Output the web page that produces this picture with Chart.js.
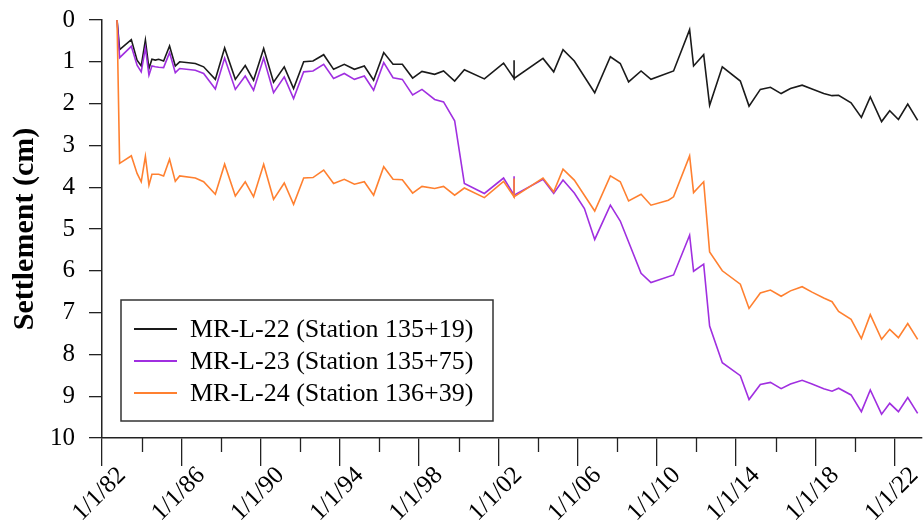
<!DOCTYPE html>
<html>
<head>
<meta charset="utf-8">
<title>Settlement</title>
<script src="https://cdn.jsdelivr.net/npm/chart.js@4.4.0/dist/chart.umd.min.js"></script>
<style>
  html, body { margin: 0; padding: 0; background: #fff; }
</style>
</head>
<body>
<canvas id="myChart" width="924" height="531"></canvas>
<script>
// survey dates as decimal years (the 2002.80 reading shows up three times, it makes the little spike)
var dates = [
  1982.76, 1982.89, 1983.48, 1983.77, 1983.98, 1984.19, 1984.37, 1984.52, 1984.69, 1984.86,
  1985.11, 1985.41, 1985.70, 1985.92, 1986.71, 1987.13, 1987.72, 1988.19, 1988.73, 1989.23,
  1989.65, 1990.16, 1990.66, 1991.20, 1991.67, 1992.18, 1992.65, 1993.19, 1993.69, 1994.23,
  1994.74, 1995.24, 1995.71, 1996.22, 1996.69, 1997.16, 1997.68, 1998.15, 1998.79, 1999.24,
  1999.80, 2000.29, 2001.30, 2002.27, 2002.80, 2002.80, 2002.80, 2004.26, 2004.80, 2005.27,
  2005.84, 2006.35, 2006.87, 2007.66, 2008.16, 2008.58, 2009.21, 2009.71, 2010.59, 2010.85,
  2011.66, 2011.86, 2012.37, 2012.67, 2013.31, 2014.22, 2014.66, 2015.23, 2015.74, 2016.28,
  2016.75, 2017.34, 2017.84, 2018.43, 2018.85, 2019.18, 2019.81, 2020.33, 2020.78, 2021.35,
  2021.76, 2022.20, 2022.67, 2023.17
]

// settlement in cm
var mrL22 = [
  0, 0.71, 0.47, 0.96, 1.10, 0.48, 1.16, 0.94, 0.96, 0.94,
  0.98, 0.62, 1.10, 1.00, 1.04, 1.12, 1.42, 0.67, 1.42, 1.09,
  1.44, 0.68, 1.49, 1.12, 1.64, 1.00, 0.98, 0.83, 1.18, 1.06,
  1.18, 1.10, 1.44, 0.78, 1.06, 1.06, 1.39, 1.23, 1.30, 1.22,
  1.46, 1.19, 1.41, 1.03, 1.40, 0.96, 1.40, 0.92, 1.24, 0.71,
  0.98, null, 1.74, 0.88, 1.04, 1.48, 1.22, 1.42, null, 1.22,
  0.23, 1.10, 0.83, 2.04, 1.12, 1.46, 2.06, 1.66, 1.61, 1.76,
  1.64, 1.56, 1.65, 1.76, 1.81, 1.80, 1.98, 2.33, 1.84, 2.43,
  2.17, 2.38, 2.01, 2.40
]
var mrL23 = [
  0, 0.90, 0.63, 1.08, 1.24, 0.67, 1.32, 1.10, 1.12, 1.13,
  1.14, 0.78, 1.26, 1.16, 1.20, 1.28, 1.65, 0.91, 1.66, 1.34,
  1.68, 0.91, 1.74, 1.36, 1.88, 1.24, 1.22, 1.06, 1.40, 1.28,
  1.42, 1.34, 1.68, 1.02, 1.38, 1.42, 1.79, 1.66, 1.90, 1.96,
  2.41, 3.91, 4.15, 3.78, 4.19, 3.74, 4.19, 3.81, 4.15, 3.83,
  4.14, 4.51, 5.25, 4.43, 4.81, null, 6.06, 6.28, null, 6.10,
  5.15, 6.01, 5.84, 7.32, 8.20, 8.51, 9.08, 8.72, 8.67, 8.82,
  8.71, 8.62, 8.71, 8.82, 8.88, 8.81, 8.97, 9.37, 8.85, 9.43,
  9.17, 9.37, 9.03, 9.41
]
var mrL24 = [
  0, 3.43, 3.25, 3.67, 3.87, 3.26, 3.95, 3.69, 3.69, 3.69,
  3.73, 3.33, 3.86, 3.73, 3.78, 3.87, 4.17, 3.45, 4.21, 3.87,
  4.23, 3.45, 4.29, 3.90, 4.41, 3.78, 3.77, 3.59, 3.91, 3.81,
  3.93, 3.87, 4.19, 3.51, 3.81, 3.82, 4.14, 3.98, 4.03, 3.98,
  4.19, 4.02, 4.25, 3.86, 4.23, 3.79, 4.23, 3.78, 4.11, 3.57,
  3.83, null, 4.57, 3.73, 3.87, 4.33, 4.17, 4.43, 4.31, 4.23,
  3.25, 4.13, 3.87, 5.55, 6.00, 6.32, 6.90, 6.53, 6.46, 6.61,
  6.48, 6.38, 6.51, 6.65, 6.74, 6.97, 7.16, 7.62, 7.05, 7.64,
  7.40, 7.60, 7.26, 7.64
]

var seriesNames = ['MR-L-22 (Station 135+19)', 'MR-L-23 (Station 135+75)', 'MR-L-24 (Station 136+39)']
var seriesColors = ['#1a1a1a', '#a02fe0', '#ff8030']
var yTitle = 'Settlement (cm)'
// labelled years on the x axis, and the unlabelled ones in between
var majorYears = [1982, 1986, 1990, 1994, 1998, 2002, 2006, 2010, 2014, 2018, 2022]
var minorYears = [1984, 1988, 1992, 1996, 2000, 2004, 2008, 2012, 2016, 2020]

function toPoints (values) {
  return dates.map(function (d, i) {
    return {x: d, y: values[i]}
  })
}

function dateLabel (year) {
  return '1/1/' + String(year % 100).padStart(2, '0')
}

// short ticks between the labelled years
var minorTicks = {
  id: 'minorTicks',
  afterDraw (chart) {
    var xs = chart.scales.x
    var ctx = chart.ctx
    ctx.save()
    ctx.strokeStyle = '#222'
    ctx.lineWidth = 1.3
    minorYears.forEach(function (v) {
      var px = Math.round(xs.getPixelForValue(v)) + 0.5
      ctx.beginPath()
      ctx.moveTo(px, xs.top)
      ctx.lineTo(px, xs.top + 14)
      ctx.stroke()
    })
    ctx.restore()
  }
}

// boxed legend in the lower left of the plot
var boxLegend = {
  id: 'boxLegend',
  afterDraw (chart) {
    var ctx = chart.ctx
    var area = chart.chartArea
    var x0 = area.left + 19
    var y0 = area.bottom - 138
    ctx.save()
    ctx.fillStyle = '#fff'
    ctx.fillRect(x0, y0, 372, 121)
    ctx.strokeStyle = '#333'
    ctx.lineWidth = 1.5
    ctx.strokeRect(x0, y0, 372, 121)
    ctx.font = '26px "Liberation Serif", "Times New Roman", serif'
    ctx.textBaseline = 'middle'
    chart.data.datasets.forEach(function (ds, i) {
      var cy = y0 + 29 + i * 32
      ctx.strokeStyle = ds.borderColor
      ctx.lineWidth = 2
      ctx.beginPath()
      ctx.moveTo(x0 + 13, cy)
      ctx.lineTo(x0 + 56, cy)
      ctx.stroke()
      ctx.fillStyle = '#000'
      ctx.fillText(ds.label, x0 + 69, cy + 1)
    })
    ctx.restore()
  }
}

Chart.defaults.font.family = '"Liberation Serif", "Times New Roman", serif'
Chart.defaults.color = '#000'

var ctx = document.getElementById('myChart').getContext('2d')
var chart = new Chart(ctx, {
  type: 'line',
  data: {
    datasets: [mrL22, mrL23, mrL24].map(function (vals, i) {
      return {
        label: seriesNames[i],
        data: toPoints(vals),
        borderColor: seriesColors[i],
        backgroundColor: seriesColors[i],
        borderWidth: 1.6,
        pointRadius: 0,
        tension: 0,
        spanGaps: true,
        order: 2 - i
      }
    })
  },
  options: {
    responsive: false,
    animation: false,
    layout: {padding: {left: 0, right: 2, top: 20, bottom: 0}},
    plugins: {
      legend: {display: false},
      tooltip: {enabled: false}
    },
    scales: {
      x: {
        type: 'linear',
        min: 1982,
        max: 2023.39,
        afterBuildTicks (scale) {
          scale.ticks = majorYears.map(function (v) { return {value: v} })
        },
        afterFit (scale) {
          scale.height = 93
          scale.paddingLeft = 0
          scale.paddingRight = 0
        },
        grid: {drawOnChartArea: false, tickLength: 28, color: '#222', lineWidth: 1.3},
        border: {color: '#222', width: 1.5},
        ticks: {
          autoSkip: false,
          maxRotation: 45,
          minRotation: 45,
          labelOffset: 20,
          padding: -5,
          font: {size: 25},
          callback: function (value) { return dateLabel(value) }
        }
      },
      y: {
        reverse: true,
        min: 0,
        max: 10,
        afterFit (scale) {
          scale.width = 102
          scale.paddingTop = 0
          scale.paddingBottom = 0
        },
        grid: {drawOnChartArea: false, tickLength: 13, color: '#222', lineWidth: 1.3},
        border: {color: '#222', width: 1.5},
        ticks: {stepSize: 1, padding: 14, font: {size: 25}},
        title: {
          display: true,
          text: yTitle,
          font: {size: 30, weight: 'bold'},
          padding: {top: 7, bottom: 0}
        }
      }
    }
  },
  plugins: [minorTicks, boxLegend]
})
</script>
</body>
</html>
